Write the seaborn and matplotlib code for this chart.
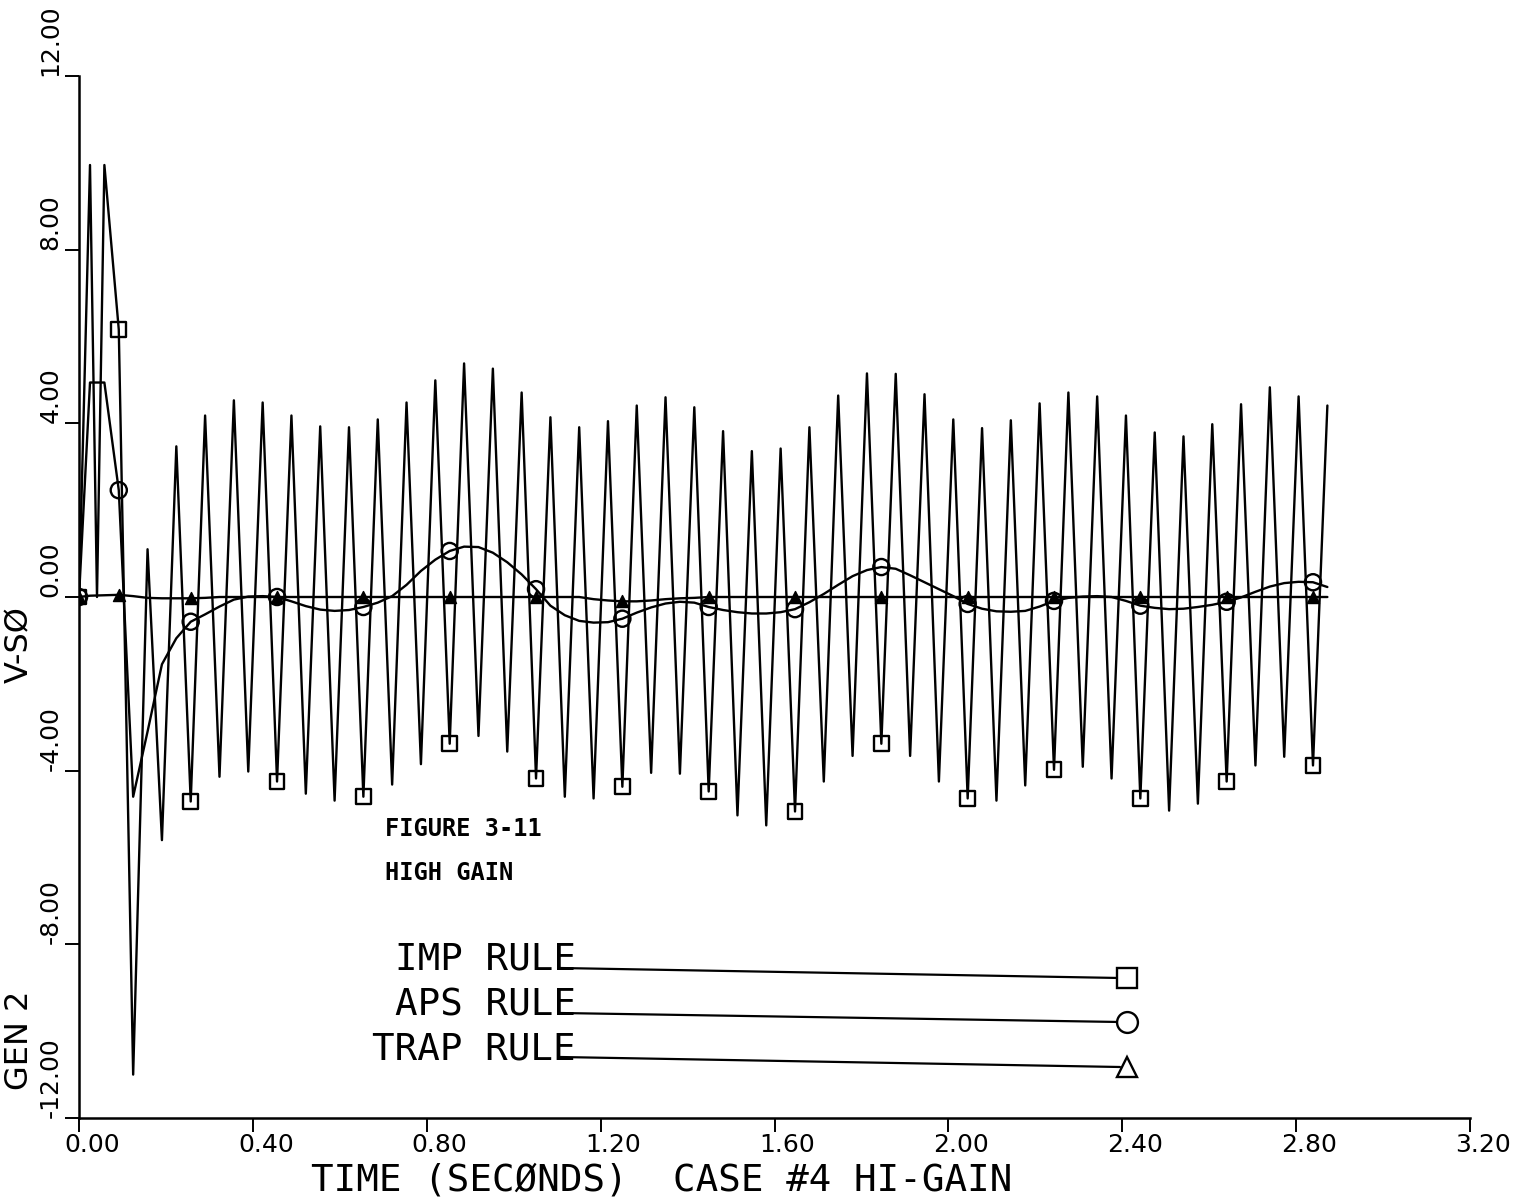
import numpy as np
import pandas as pd
import matplotlib
matplotlib.use("Agg")
import matplotlib.pyplot as plt
from matplotlib import font_manager
from matplotlib.transforms import ScaledTranslation
import seaborn as sns

# ---------------------------------------------------------------------------
# Integration output, generator 2, V-S0 (case #4, high gain)
# ---------------------------------------------------------------------------
dt = 0.0331            # integration step (s)
t_first = 0.0253       # time of the first computed step (s)
n_steps = 87
t_grid = t_first + dt * np.arange(n_steps)

# IMP rule: start-up points, then one value per step
imp_start_t = [0.0, t_grid[0], 0.0414]
imp_start_v = [0.0, 9.95, 0.0]
imp_steps = [9.95, 6.16, -11.0, 1.10, -5.60,
             3.47, -4.71, 4.18, -4.14, 4.53, -4.02, 4.48, -4.25, 4.18, -4.53,
             3.93, -4.69, 3.91, -4.60, 4.09, -4.32, 4.48, -3.85, 4.99, -3.38,
             5.38, -3.20, 5.26, -3.56, 4.71, -4.18, 4.14, -4.60, 3.91, -4.64,
             4.05, -4.37, 4.41, -4.05, 4.60, -4.07, 4.37, -4.48, 3.82, -5.03,
             3.36, -5.26, 3.42, -4.94, 3.91, -4.25, 4.64, -3.66, 5.15, -3.38,
             5.14, -3.66, 4.67, -4.25, 4.09, -4.64, 3.89, -4.69, 4.07, -4.34,
             4.46, -3.98, 4.71, -3.91, 4.62, -4.18, 4.18, -4.64, 3.79, -4.92,
             3.70, -4.76, 3.98, -4.25, 4.44, -3.88, 4.83, -3.68, 4.62, -3.88,
             4.41]

# APS rule: value at t = 0, then one value per step
aps_values = [0.0,
              4.94, 4.94, 2.46, -4.60, -3.10, -1.55, -0.95,
              -0.57, -0.40, -0.22, -0.06, 0.01, 0.02, 0.00, -0.10, -0.21, -0.29,
              -0.32, -0.30, -0.23, -0.13, 0.02, 0.28, 0.60, 0.86, 1.06, 1.16,
              1.15, 1.02, 0.80, 0.52, 0.18, -0.20, -0.42, -0.55, -0.59, -0.58,
              -0.50, -0.36, -0.24, -0.15, -0.11, -0.13, -0.23, -0.30, -0.35, -0.38,
              -0.38, -0.35, -0.28, -0.12, 0.07, 0.28, 0.48, 0.62, 0.69, 0.65,
              0.50, 0.34, 0.18, 0.02, -0.16, -0.27, -0.33, -0.34, -0.32, -0.22,
              -0.09, -0.02, 0.01, 0.02, 0.00, -0.09, -0.20, -0.25, -0.28, -0.27,
              -0.23, -0.18, -0.11, -0.01, 0.12, 0.24, 0.32, 0.35, 0.34, 0.23]

# TRAP rule: value at t = 0, then one value per step
trap_values = [0.0,
               0.03, 0.04, 0.05, 0.02, -0.02, -0.03, -0.03, -0.03, -0.02,
               0.00, 0.00, 0.00, 0.00, 0.00, 0.00, 0.00, 0.00, 0.00, 0.00,
               0.00, 0.00, 0.00, 0.00, 0.00, 0.00, 0.00, 0.00, 0.00, 0.00,
               0.00, 0.00, 0.00, 0.00, 0.00, 0.00, -0.05, -0.08, -0.10, -0.10,
               -0.08, -0.05, -0.03, -0.02, 0.00, 0.00, 0.00, 0.00, 0.00, 0.00,
               0.00, 0.00, 0.00, 0.00, 0.00, 0.00, 0.00, 0.00, 0.00, 0.00,
               0.00, 0.00, 0.00, 0.00, 0.00, 0.00, 0.00, 0.00, 0.00, 0.00,
               0.00, 0.00, 0.00, 0.00, 0.00, 0.00, 0.00, 0.00, 0.00, 0.00,
               0.00, 0.00, 0.00, 0.00, 0.00, 0.00, 0.00, 0.00]

# steps carrying a symbol
mark_steps = [2, 7, 13, 19, 25, 31, 37, 43, 49, 55, 61, 67, 73, 79, 85]

rule_names = ["IMP RULE", "APS RULE", "TRAP RULE"]
x_ticks = [0.0, 0.4, 0.8, 1.2, 1.6, 2.0, 2.4, 2.8, 3.2]
y_ticks = [-12, -8, -4, 0, 4, 8, 12]

# ---------------------------------------------------------------------------
sns.set_theme(style="ticks")


def pick_font(*names):
    for name in names:
        try:
            font_manager.findfont(font_manager.FontProperties(family=name),
                                  fallback_to_default=False)
            return name
        except ValueError:
            continue
    return "DejaVu Sans"


narrow = pick_font("Liberation Sans Narrow", "DejaVu Sans Condensed", "DejaVu Sans")
mono = pick_font("DejaVu Sans Mono", "Liberation Mono")
plt.rcParams["font.family"] = [narrow, "DejaVu Sans"]

W, H = 1531, 1198
fig = plt.figure(figsize=(W / 100, H / 100), dpi=100)
fig.patch.set_facecolor("white")
ax = fig.add_axes([79 / W, 1 - 1118 / H, (1470 - 79) / W, (1118 - 76) / H])
ax.set_facecolor("white")


def fxy(px, py):
    return px / W, 1 - py / H


imp = pd.DataFrame({"time": np.concatenate([imp_start_t, t_grid[1:]]),
                    "value": imp_start_v + imp_steps})
t_full = np.concatenate([[0.0], t_grid])
aps = pd.DataFrame({"time": t_full, "value": aps_values})
trap = pd.DataFrame({"time": t_full, "value": trap_values})

line_kw = dict(x="time", y="value", ax=ax, color="black", lw=1.7,
               estimator=None, sort=False, legend=False)
sns.lineplot(data=trap, **line_kw)
sns.lineplot(data=aps, **line_kw)
sns.lineplot(data=imp, **line_kw)

imp_idx = [0] + [k + 2 for k in mark_steps]
cur_idx = [0] + [k + 1 for k in mark_steps]

sns.scatterplot(data=imp.iloc[imp_idx], x="time", y="value", ax=ax, marker="s",
                s=115, color="black", facecolor="none", edgecolor="black",
                linewidth=1.7, zorder=5, legend=False)
sns.scatterplot(data=aps.iloc[cur_idx], x="time", y="value", ax=ax, marker="o",
                s=135, color="black", facecolor="none", edgecolor="black",
                linewidth=1.7, zorder=5, legend=False)
sns.scatterplot(data=trap.iloc[cur_idx], x="time", y="value", ax=ax, marker="^",
                s=75, color="black", edgecolor="black", linewidth=1.0,
                zorder=6, legend=False)

# axes
ax.set_xlim(0, 3.2)
ax.set_ylim(-12, 12)
ax.set_xticks(x_ticks)
ax.set_xticklabels([f"{v:.2f}" for v in x_ticks])
ax.set_yticks(y_ticks)
ax.set_yticklabels([f"{v:.2f}" for v in y_ticks])
ax.set_xlabel("")
ax.set_ylabel("")
for side in ("top", "right"):
    ax.spines[side].set_visible(False)
for side in ("left", "bottom"):
    ax.spines[side].set_color("black")
    ax.spines[side].set_linewidth(1.8)
ax.tick_params(axis="both", direction="out", length=10, width=1.4,
               color="black", labelcolor="black", labelsize=18)
ax.tick_params(axis="x", pad=1)
ax.tick_params(axis="y", pad=2, labelrotation=90)
for lab in ax.get_yticklabels():
    lab.set_verticalalignment("bottom")
for lab in ax.get_xticklabels():
    lab.set_horizontalalignment("left")
    lab.set_transform(lab.get_transform()
                      + ScaledTranslation(-0.15, 0, fig.dpi_scale_trans))

# axis titles
fig.text(*fxy(662, 1190), "TIME (SECØNDS)  CASE #4 HI-GAIN", ha="center",
         va="baseline", fontsize=27, family=[mono, "DejaVu Sans"], color="black")
fig.text(*fxy(20, 1040), "GEN 2", rotation=90, ha="center", va="center",
         fontsize=23, color="black")
fig.text(*fxy(20, 645), "V-SØ", rotation=90, ha="center", va="center",
         fontsize=23, color="black")

# figure caption
fig.text(*fxy(385, 836), "FIGURE 3-11", ha="left", va="baseline", fontsize=17,
         weight="bold", family=[mono, "DejaVu Sans"], color="black")
fig.text(*fxy(385, 880), "HIGH GAIN", ha="left", va="baseline", fontsize=17,
         weight="bold", family=[mono, "DejaVu Sans"], color="black")

# key
key_rows = [(970, 968, 978, "s", 15),
            (1015, 1013, 1022, "o", 15),
            (1059, 1057, 1067, "^", 14)]
for name, (base, y0, y1, mk, ms) in zip(rule_names, key_rows):
    fig.text(*fxy(576, base), name, ha="right", va="baseline", fontsize=27,
             family=[mono, "DejaVu Sans"], color="black")
    x0, yy0 = fxy(560, y0)
    x1, yy1 = fxy(1120, y1)
    ax.plot([x0, x1], [yy0, yy1], transform=fig.transFigure, color="black",
            lw=1.6, clip_on=False)
    xm, ym = fxy(1127, y1)
    ax.plot([xm], [ym], transform=fig.transFigure, marker=mk, ms=ms,
            mfc="white", mec="black", mew=1.7, clip_on=False)

fig.savefig("out.png", dpi=100, facecolor="white")
